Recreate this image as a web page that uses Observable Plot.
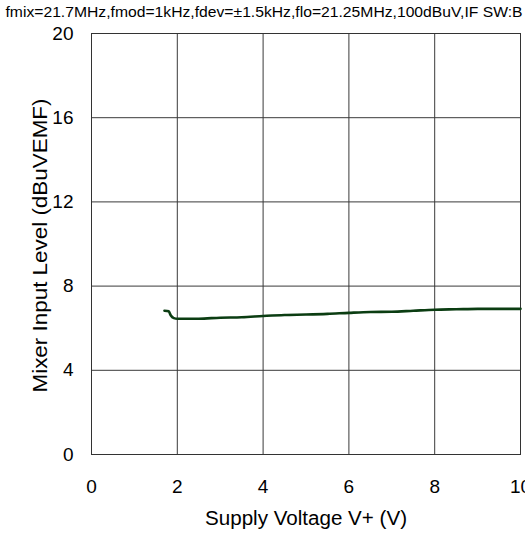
<!DOCTYPE html>
<html><head><meta charset="utf-8">
<script src="https://cdn.jsdelivr.net/npm/d3@7"></script>
<script src="https://cdn.jsdelivr.net/npm/@observablehq/plot@0.6"></script>
<style>body{margin:0;background:#fff;overflow:hidden}</style>
</head><body><div id="chart"></div>
<script>
const title = "fmix=21.7MHz,fmod=1kHz,fdev=±1.5kHz,flo=21.25MHz,100dBuV,IF SW:B";
const xLabel = "Supply Voltage V+ (V)";
const yLabel = "Mixer Input Level (dBuVEMF)";
const xTicks = [0, 2, 4, 6, 8, 10];
const yTicks = [0, 4, 8, 12, 16, 20];
const voltage = [1.7, 1.8, 1.85, 1.92, 2.0, 2.5, 3.0, 3.5, 4.0, 4.5, 5.0, 5.5, 6.0, 6.5, 7.0, 7.5, 8.0, 8.5, 9.0, 10.0];
const level   = [6.83, 6.8, 6.6, 6.48, 6.45, 6.45, 6.5, 6.52, 6.58, 6.63, 6.65, 6.68, 6.73, 6.77, 6.78, 6.83, 6.88, 6.9, 6.92, 6.92];
const data = voltage.map((v, i) => ({v, l: level[i]}));

const chart = Plot.plot({
  width: 525, height: 534,
  marginTop: 33, marginLeft: 91, marginRight: 5, marginBottom: 80,
  style: {fontFamily: "'Liberation Sans', Arial, sans-serif", fontSize: "19px", color: "#000", background: "#fff"},
  x: {domain: [0, 10], ticks: xTicks},
  y: {domain: [0, 20], ticks: yTicks},
  marks: [
    Plot.gridX(xTicks, {stroke: "#3a3a3a", strokeOpacity: 1, strokeWidth: 1}),
    Plot.gridY(yTicks, {stroke: "#3a3a3a", strokeOpacity: 1, strokeWidth: 1}),
    Plot.frame({stroke: "#333", strokeWidth: 1}),
    Plot.axisX({ticks: xTicks, tickSize: 0, tickPadding: 25, label: null, fontSize: 19}),
    Plot.axisY({ticks: yTicks, tickSize: 0, tickPadding: 18, label: null, fontSize: 19}),
    Plot.line(data, {x: "v", y: "l", stroke: "#0b3d12", strokeWidth: 2.6, curve: "monotone-x"}),
    Plot.text([xLabel], {frameAnchor: "bottom", dy: 64, lineAnchor: "middle", fontSize: 20, fill: "#000", className: "xl"}),
    Plot.text([yLabel], {frameAnchor: "bottom-left", dx: -51, dy: -62, rotate: -90, textAnchor: "start", lineAnchor: "middle", fontSize: 20, fill: "#000", className: "yl"}),
    Plot.text([title], {frameAnchor: "top-left", dx: -86, dy: -21, textAnchor: "start", lineAnchor: "middle", fontSize: 15, fill: "#000", className: "ttl"})
  ]
});
document.getElementById("chart").appendChild(chart);
function stretch(cls, len) {
  const t = chart.querySelector("." + cls + " text");
  if (t) { t.setAttribute("textLength", len); t.setAttribute("lengthAdjust", "spacingAndGlyphs"); }
}
stretch("ttl", 517);
stretch("xl", 202);
stretch("yl", 294);
</script></body></html>
